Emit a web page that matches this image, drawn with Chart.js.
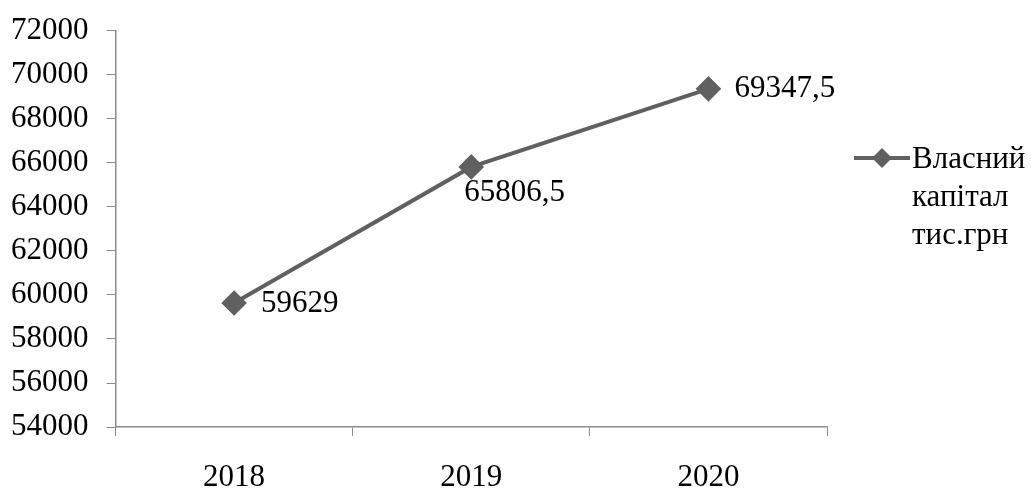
<!DOCTYPE html>
<html>
<head>
<meta charset="utf-8">
<script src="https://cdn.jsdelivr.net/npm/chart.js@4"></script>
<style>
  html, body { margin: 0; padding: 0; background: #fff; }
  #wrap { width: 1031px; height: 491px; }
</style>
</head>
<body>
<div id="wrap"><canvas id="chart"></canvas></div>
<script>
const years = ["2018", "2019", "2020"];
const equity = [59629, 65806.5, 69347.5];
const equityLabels = ["59629", "65806,5", "69347,5"];
const seriesName = ["Власний", "капітал", "тис.грн"];

const FONT = "'Liberation Serif', 'Times New Roman', serif";
const LINE = "#606060";
const AXIS = "#8c8c8c";

// where each value label sits relative to its point
const labelPlace = [
    { dx: 27, dy: 1, base: "middle" },
    { dx: -7, dy: 10, base: "top" },
    { dx: 26, dy: 0, base: "middle" }
];

const pointLabels = {
    id: "pointLabels",
    afterDatasetsDraw(chart) {
        const ctx = chart.ctx;
        const meta = chart.getDatasetMeta(0);
        ctx.save();
        ctx.font = "31px " + FONT;
        ctx.fillStyle = "#000";
        ctx.textAlign = "left";
        meta.data.forEach((pt, i) => {
            const p = labelPlace[i];
            ctx.textBaseline = p.base;
            ctx.fillText(equityLabels[i], pt.x + p.dx, pt.y + p.dy);
        });
        ctx.restore();
    }
};

const sideLegend = {
    id: "sideLegend",
    afterDraw(chart) {
        const ctx = chart.ctx;
        const x0 = chart.chartArea.right + 27;
        const y0 = 158;
        ctx.save();
        ctx.strokeStyle = LINE;
        ctx.lineWidth = 4;
        ctx.beginPath();
        ctx.moveTo(x0, y0);
        ctx.lineTo(x0 + 56, y0);
        ctx.stroke();
        ctx.fillStyle = LINE;
        ctx.beginPath();
        ctx.moveTo(x0 + 28, y0 - 10);
        ctx.lineTo(x0 + 38, y0);
        ctx.lineTo(x0 + 28, y0 + 10);
        ctx.lineTo(x0 + 18, y0);
        ctx.closePath();
        ctx.fill();
        ctx.font = "31px " + FONT;
        ctx.fillStyle = "#000";
        ctx.textAlign = "left";
        ctx.textBaseline = "middle";
        seriesName.forEach((t, i) => ctx.fillText(t, x0 + 58, y0 + 2 + i * 38));
        ctx.restore();
    }
};

new Chart(document.getElementById("chart"), {
    type: "line",
    data: {
        labels: years,
        datasets: [{
            label: seriesName.join(" "),
            data: equity,
            borderColor: LINE,
            backgroundColor: LINE,
            borderWidth: 4,
            pointStyle: "rectRot",
            pointRadius: 10,
            pointHoverRadius: 10,
            tension: 0
        }]
    },
    options: {
        responsive: true,
        maintainAspectRatio: false,
        animation: false,
        layout: { padding: { top: 0, right: 204, bottom: -29, left: -7 } },
        plugins: { legend: { display: false }, tooltip: { enabled: false } },
        scales: {
            x: {
                offset: true,
                grid: { offset: true, drawOnChartArea: false, tickLength: 9, color: AXIS },
                border: { color: AXIS, width: 1.5 },
                ticks: { color: "#000", font: { family: FONT, size: 31, lineHeight: 0.9 }, padding: 28 }
            },
            y: {
                min: 54000,
                max: 72000,
                grid: { drawOnChartArea: false, tickLength: 9, color: AXIS },
                border: { color: AXIS, width: 1.5 },
                ticks: {
                    stepSize: 2000,
                    color: "#000",
                    font: { family: FONT, size: 31, lineHeight: 0.8 },
                    padding: 18,
                    callback: v => String(v)
                }
            }
        }
    },
    plugins: [pointLabels, sideLegend]
});
</script>
</body>
</html>
